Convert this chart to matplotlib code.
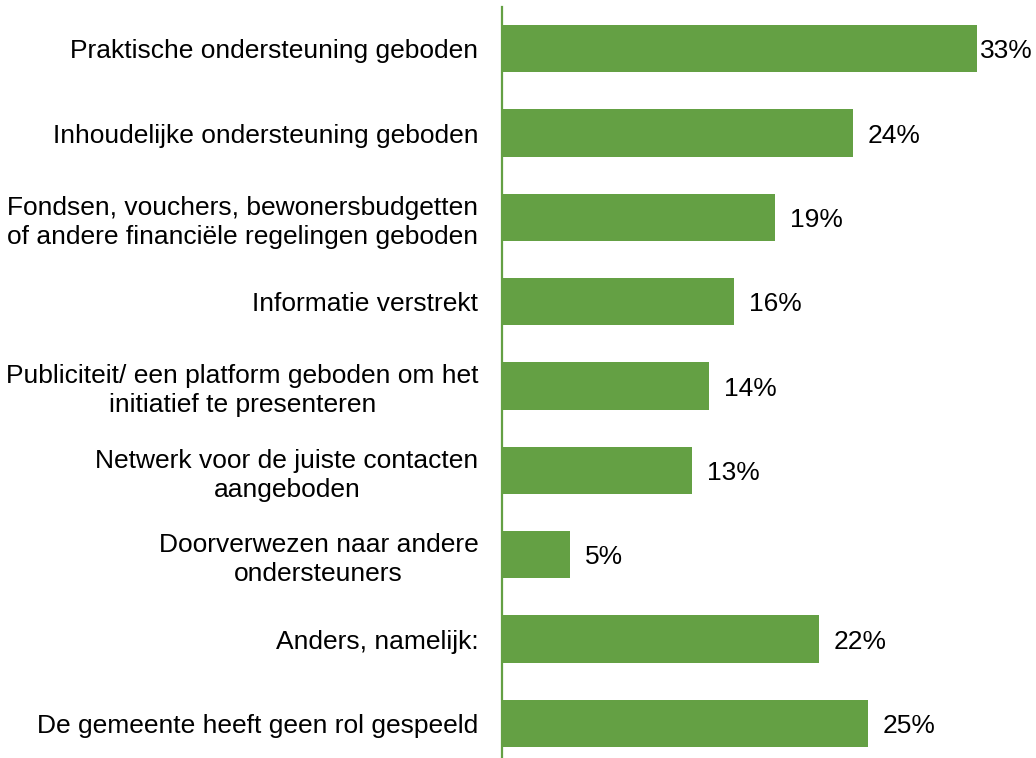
import numpy as np
import matplotlib.pyplot as plt

# categories (top to bottom) and percentages
categories = [
    "Praktische ondersteuning geboden",
    "Inhoudelijke ondersteuning geboden",
    "Fondsen, vouchers, bewonersbudgetten\nof andere financiële regelingen geboden",
    "Informatie verstrekt",
    "Publiciteit/ een platform geboden om het\ninitiatief te presenteren",
    "Netwerk voor de juiste contacten\naangeboden",
    "Doorverwezen naar andere\nondersteuners",
    "Anders, namelijk:",
    "De gemeente heeft geen rol gespeeld",
]
values = [33.0, 24.4, 19.0, 16.1, 14.4, 13.2, 4.7, 22.0, 25.4]

green = '#64A044'

plt.rcParams['font.family'] = ['Liberation Sans', 'DejaVu Sans']

fig = plt.figure(figsize=(10.36, 7.58), dpi=100)
W, H = 1036.0, 758.0
# axes placed so the category axis line sits at x=502px
ax = fig.add_axes([502 / W, -7.5 / H, (W - 502) / W, 759 / H])

y = np.arange(len(categories))
ax.barh(y, values, height=0.56, color=green)

ax.set_ylim(len(categories) - 0.5, -0.5)
ax.set_xlim(0, 534 / 14.39)

ax.set_yticks(y)
ax.set_yticklabels(categories, fontsize=19, multialignment='center',
                   linespacing=1.25)
ax.tick_params(axis='y', length=0, pad=17)
ax.set_xticks([])

for s in ['top', 'right', 'bottom']:
    ax.spines[s].set_visible(False)
ax.spines['left'].set_color(green)
ax.spines['left'].set_linewidth(1.6)

# data labels
xmax = ax.get_xlim()[1]
for yi, v in zip(y, values):
    xt = min(v + 1.04, xmax - 56 / 14.39)
    ax.text(xt, yi + 0.03, f"{round(v)}%", va='center', ha='left', fontsize=19,
            color='black', clip_on=False)

fig.savefig('out.png', dpi=100)
